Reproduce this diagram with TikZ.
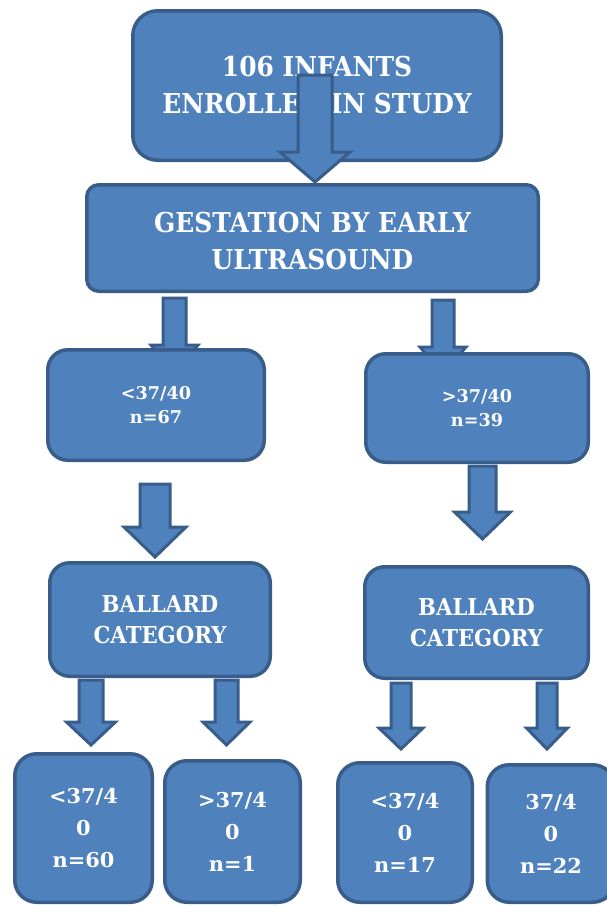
\documentclass[tikz,border=0pt]{standalone}
\usepackage{fontspec}
\setmainfont{DejaVu Serif}
\newfontfamily\fTop{DejaVu Serif}[FakeStretch=0.91]
\newfontfamily\fMid{DejaVu Serif}[FakeStretch=1.0]
\newfontfamily\fBal{DejaVu Serif}[FakeStretch=0.91]
\newfontfamily\fBot{DejaVu Serif}[FakeStretch=1.02]
\definecolor{boxfill}{HTML}{4F81BD}
\definecolor{boxline}{HTML}{385D8A}
\tikzset{
  box/.style={draw=boxline, fill=boxfill, line width=3.5pt, inner sep=0pt, outer sep=0pt,
    text=white, align=center},
  barrow/.style={draw=boxline, fill=boxfill, line width=3pt, line join=miter},
  bigtxt/.style={font=\fTop\bfseries\fontsize{27.4}{37}\selectfont},
  midtxt/.style={font=\fMid\bfseries\fontsize{17.6}{24}\selectfont},
  baltxt/.style={font=\fBal\bfseries\fontsize{23.3}{31}\selectfont},
  bottxt/.style={font=\fBot\bfseries\fontsize{20.5}{32}\selectfont},
}
% cx, shaft half width, top, head start, tip, head half width
\newcommand\blockarr[6]{%
  \draw[barrow] ({#1-#2},#3) -- ({#1+#2},#3) -- ({#1+#2},#4) -- ({#1+#6},#4)
    -- (#1,#5) -- ({#1-#6},#4) -- ({#1-#2},#4) -- cycle;}
\begin{document}
\begin{tikzpicture}[x=1pt,y=-1pt]
\useasboundingbox (0,0) rectangle (607,906);
\clip (0,0) rectangle (607,906);

\node[box, bigtxt, rounded corners=25pt, minimum width=368.5pt, minimum height=149.5pt] (top) at (317,85.5)
  {106 INFANTS\\ENROLLED IN STUDY};
\node[box, rounded corners=12pt, minimum width=451.5pt, minimum height=106.5pt] (gest) at (312.5,238) {};
\node[bigtxt, text=white, align=center, inner sep=0pt] (gesttxt) at ([yshift=-3pt]gest.center)
  {GESTATION BY EARLY\\ULTRASOUND};
\blockarr{315}{17}{75}{152}{182}{35}

\blockarr{174.5}{11.5}{298}{345}{372}{23.5}
\blockarr{443}{11}{300}{347}{374}{23}

\node[box, midtxt, rounded corners=20pt, minimum width=216.5pt, minimum height=110.5pt] (lt) at (156,405)
  {<37/40\\n=67};
\node[box, midtxt, rounded corners=20pt, minimum width=222.5pt, minimum height=108.5pt] (gt) at (477,408)
  {>37/40\\n=39};

\blockarr{155}{15}{484}{527}{557}{31}
\blockarr{482.5}{13.5}{466}{512}{539}{28}

\node[box, baltxt, rounded corners=20pt, minimum width=220.5pt, minimum height=113.5pt] (bl) at (160,619.5)
  {BALLARD\\CATEGORY};
\node[box, baltxt, rounded corners=20pt, minimum width=223.5pt, minimum height=111.5pt] (br) at (476.5,622.5)
  {BALLARD\\CATEGORY};

\blockarr{91}{12}{680}{722}{745}{24.5}
\blockarr{226.5}{11.5}{680}{722}{745}{23.5}
\blockarr{401}{10}{683}{728}{749}{22}
\blockarr{547}{10}{683}{728}{749}{20.5}

\node[box, bottxt, rounded corners=22pt, minimum width=137.5pt, minimum height=148.5pt] (b1) at (83.5,828)
  {<37/4\\0\\n=60};
\node[box, bottxt, rounded corners=22pt, minimum width=135.5pt, minimum height=141.5pt] (b2) at (232.5,831.5)
  {>37/4\\0\\n=1};
\node[box, bottxt, rounded corners=22pt, minimum width=134.5pt, minimum height=139.5pt] (b3) at (405,832.5)
  {<37/4\\0\\n=17};
\node[box, bottxt, rounded corners=22pt, minimum width=127.5pt, minimum height=137.5pt] (b4) at (551,833.5)
  {37/4\\0\\n=22};
\end{tikzpicture}
\end{document}
